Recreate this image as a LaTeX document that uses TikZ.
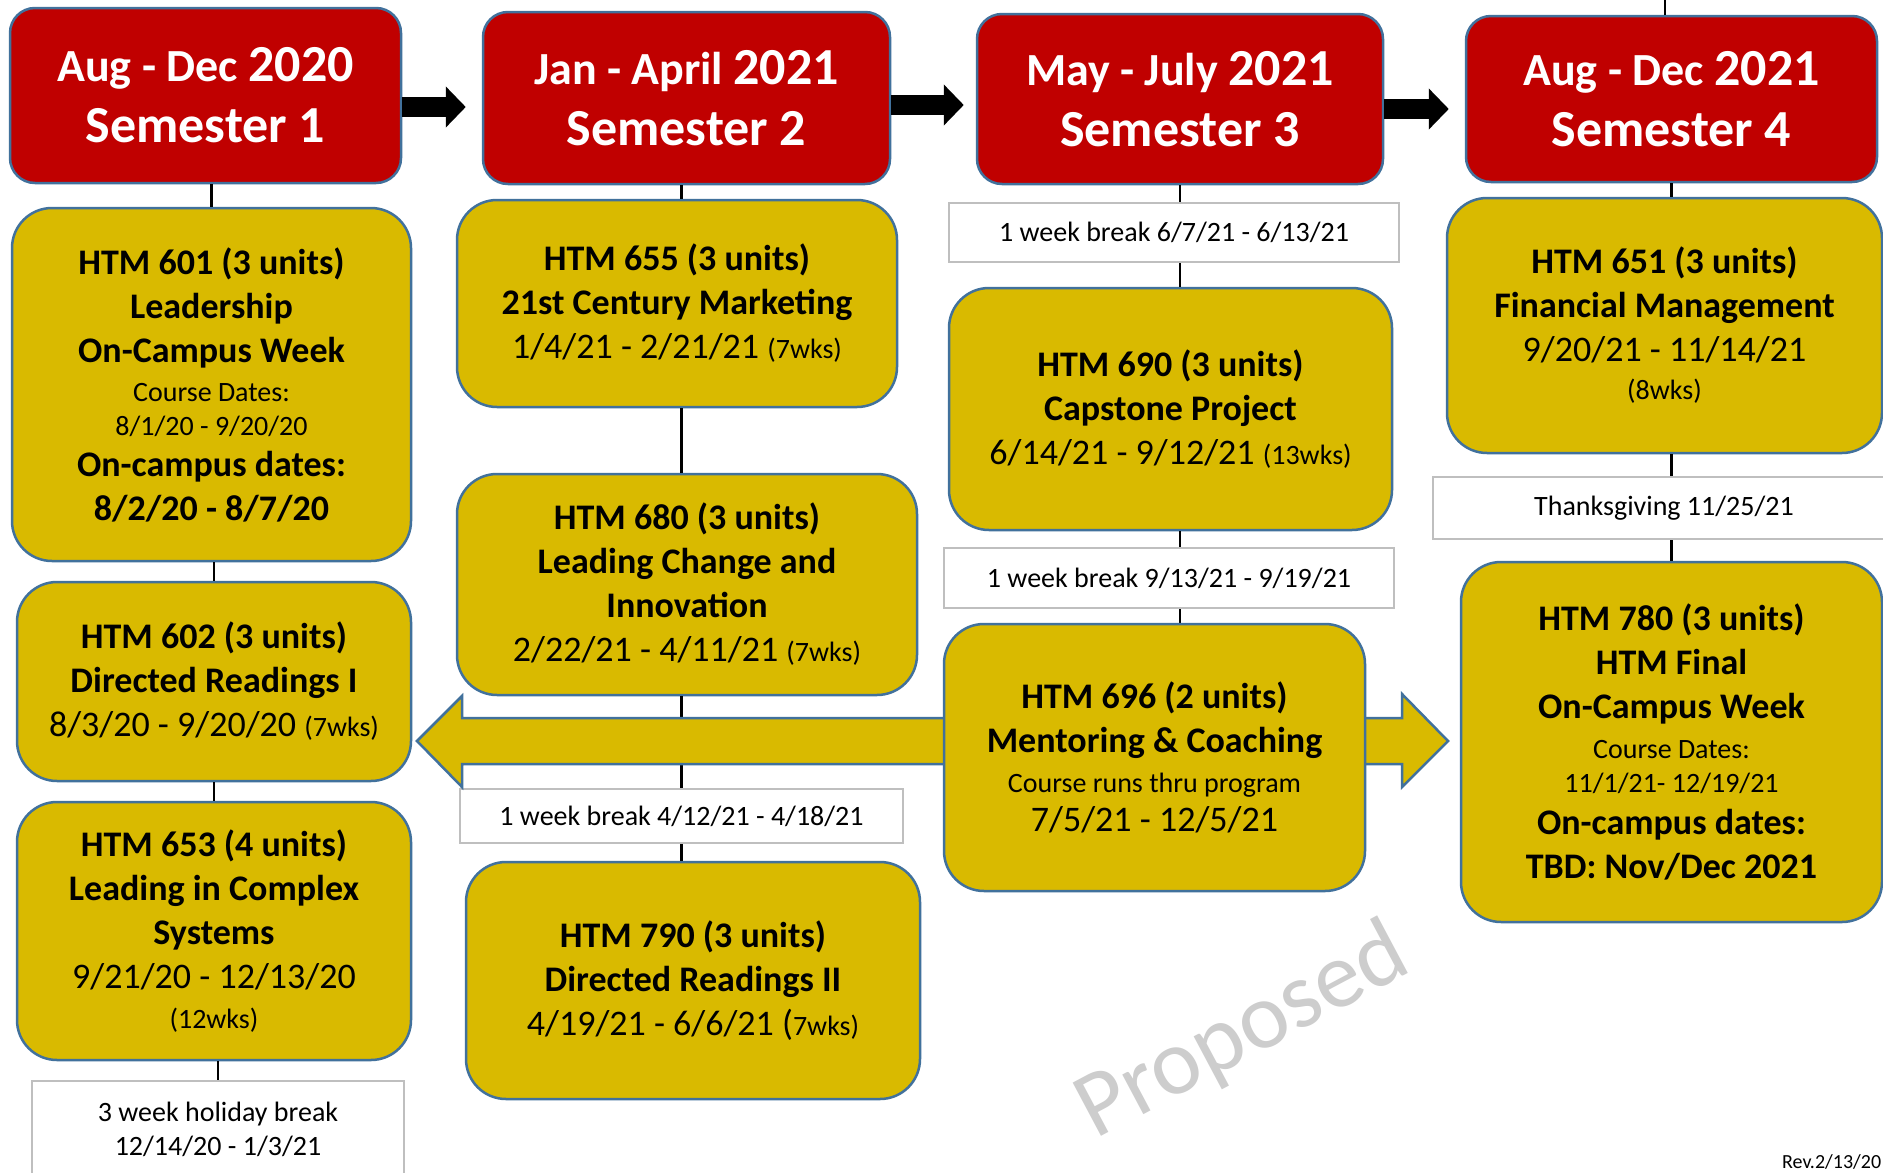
\documentclass[tikz,border=0pt]{standalone}
\usepackage{fontspec}
\setmainfont{Carlito}
\usetikzlibrary{arrows.meta,calc}
\definecolor{hred}{RGB}{192,0,0}
\definecolor{hyel}{RGB}{217,186,0}
\definecolor{hblue}{RGB}{65,113,156}
\definecolor{hgray}{RGB}{191,191,191}
\definecolor{wmgray}{RGB}{205,205,205}
\newcommand\Tt{\fontsize{36}{44}\selectfont\bfseries}
\newcommand\Dd{\fontsize{36}{44}\selectfont\mdseries}
\newcommand\Ss{\fontsize{28}{34}\selectfont\mdseries}
\newcommand\Hm{\fontsize{46}{61}\selectfont}
\newcommand\Hy{\fontsize{52}{61}\selectfont}
\begin{document}
\begin{tikzpicture}[x=1pt,y=-1pt,
 hdr/.style={draw=hblue, line width=2.5pt, fill=hred, rounded corners=25pt, text=white, font=\Hy\bfseries, align=center, inner sep=0pt},
 crs/.style={draw=hblue, line width=2.5pt, fill=hyel, rounded corners=40pt, align=center, inner sep=0pt, font=\Tt},
 brk/.style={draw=hgray, line width=2pt, fill=white, align=center, inner sep=0pt, font=\Ss},
 conn/.style={line width=2.5pt, black},
 blk/.style={line width=20pt, black, -{Triangle[length=20pt,width=40pt]}},
 yarr/.style={draw=hblue, line width=2.5pt, fill=hyel, line join=miter},
]
\useasboundingbox (0,0) rectangle (1883,1173);
\fill[white] (0,0) rectangle (1883,1173);

% headers
\node[hdr, minimum width=391pt, minimum height=175pt] (h1) at (205.5,95.5) {\Hm Aug - Dec \Hy 2020\\Semester 1};
\node[hdr, minimum width=407pt, minimum height=172pt] (h2) at (686.5,98) {\Hm Jan - April \Hy 2021\\Semester 2};
\node[hdr, minimum width=406pt, minimum height=170pt] (h3) at (1180,99) {\Hm May - July \Hy 2021\\Semester 3};
\node[hdr, minimum width=411pt, minimum height=166pt] (h4) at (1671.5,99) {\Hm Aug - Dec \Hy 2021\\Semester 4};

% break boxes
\node[brk, minimum width=450pt, minimum height=59pt] (brk1) at (1174,232.5) {1 week break 6/7/21 - 6/13/21};
\node[brk, minimum width=450pt, minimum height=60pt] (brk2) at (1169,578) {1 week break 9/13/21 - 9/19/21};
\node[brk, minimum width=443pt, minimum height=54pt] (brk3) at (681.5,816) {1 week break 4/12/21 - 4/18/21};
\node[brk, minimum width=462pt, minimum height=62pt] (thx) at (1664,508) {Thanksgiving 11/25/21};
\node[brk, minimum width=372pt, minimum height=97pt] (hol) at (218,1129.5) {3 week holiday break\\12/14/20 - 1/3/21};

\coordinate (top4) at (1665,0);

% black arrows between headers
\draw[blk] ($(h1.east)+(0,11.5)$) -- ($(h2.west)+(-16,9)$);
\draw[blk] ($(h2.east)+(0,7)$) -- ($(h3.west)+(-12,6)$);
\draw[blk] ($(h3.east)+(0,10)$) -- ($(h4.west)+(-16,10)$);

% course boxes
\node[crs, minimum width=399pt, minimum height=353pt] (c601) at (211.5,384.5)
 {HTM 601 (3 units)\\Leadership\\On-Campus Week\\[-5pt]\Ss Course Dates:\\[-10pt]\Ss 8/1/20 - 9/20/20\\[-3pt]On-campus dates:\\8/2/20 - 8/7/20};
\node[crs, minimum width=394pt, minimum height=199pt] (c602) at (214,681.5)
 {HTM 602 (3 units)\\Directed Readings I\\\Dd 8/3/20 - 9/20/20 {\Ss(7wks)}};
\node[crs, minimum width=394pt, minimum height=258pt] (c653) at (214,931)
 {HTM 653 (4 units)\\Leading in Complex\\Systems\\\Dd 9/21/20 - 12/13/20\\[-4pt]\Ss (12wks)};
\node[crs, minimum width=440pt, minimum height=207pt] (c655) at (677,303.5)
 {HTM 655 (3 units)\\21st Century Marketing\\\Dd 1/4/21 - 2/21/21 {\Ss(7wks)}};
\node[crs, minimum width=460pt, minimum height=221pt] (c680) at (687,584.5)
 {HTM 680 (3 units)\\Leading Change and\\Innovation\\\Dd 2/22/21 - 4/11/21 {\Ss(7wks)}};
\node[crs, minimum width=454pt, minimum height=237pt] (c790) at (693,980.5)
 {HTM 790 (3 units)\\Directed Readings II\\\Dd 4/19/21 - 6/6/21 ({\Ss7wks)}};
\node[crs, minimum width=443pt, minimum height=242pt] (c690) at (1170.5,409)
 {HTM 690 (3 units)\\Capstone Project\\\Dd 6/14/21 - 9/12/21 {\Ss(13wks)}};
\node[crs, minimum width=435pt, minimum height=255pt] (c651) at (1664.5,325.5)
 {HTM 651 (3 units)\\Financial Management\\\Dd 9/20/21 - 11/14/21\\[-6pt]\Ss (8wks)};
\node[crs, minimum width=421pt, minimum height=360pt] (c780) at (1671.5,742)
 {HTM 780 (3 units)\\HTM Final\\On-Campus Week\\[-4pt]\Ss Course Dates:\\[-10pt]\Ss 11/1/21- 12/19/21\\[-2pt]On-campus dates:\\TBD: Nov/Dec 2021};

% vertical connectors
\draw[conn] (h1.south -| c601.north) -- (c601.north);
\draw[conn] (c601.south -| c602.north) -- (c602.north);
\draw[conn] (c602.south) -- (c602.south |- c653.north);
\draw[conn] (c653.south -| hol.north) -- (hol.north);
\draw[conn] (h2.south -| brk3.north) -- (c655.north -| brk3.north);
\draw[conn] (c655.south -| brk3.north) -- (c680.north -| brk3.north);
\draw[conn] (c680.south -| brk3.north) -- (brk3.north);
\draw[conn] (brk3.south) -- (brk3.south |- c790.north);
\draw[conn] (h3.south) -- (h3.south |- brk1.north);
\draw[conn] (brk1.south -| h3.south) -- (c690.north -| h3.south);
\draw[conn] (c690.south -| h3.south) -- (brk2.north -| h3.south);
\draw[conn] (brk2.south -| h3.south) -- (h3.south |- 0,630);
\draw[conn] (top4) -- (top4 |- h4.north);
\draw[conn] (h4.south) -- (h4.south |- c651.north);
\draw[conn] (c651.south -| h4.south) -- (thx.north -| h4.south);
\draw[conn] (thx.south -| h4.south) -- (c780.north -| h4.south);

% yellow block arrows
\draw[yarr] (960,718) -- (462,718) -- (462,696) -- (417,741) -- (462,787) -- (462,764) -- (960,764) -- cycle;
\draw[yarr] (1350,718) -- (1402,718) -- (1402,694) -- (1448,741) -- (1402,787) -- (1402,764) -- (1350,764) -- cycle;

\node[crs, minimum width=421pt, minimum height=267pt] (c696) at (1154.5,757.5)
 {HTM 696 (2 units)\\Mentoring \& Coaching\\[-4pt]\Ss Course runs thru program\\[-5pt]\Dd 7/5/21 - 12/5/21};

% watermark
\node[rotate=28, text=wmgray, font=\fontsize{94}{94}\selectfont] (wm) at (1243,1033) {Proposed};

\node[anchor=base west, inner sep=0pt, font=\fontsize{20}{24}\selectfont] (rev) at (1782,1168) {Rev.2/13/20};
\end{tikzpicture}
\end{document}
